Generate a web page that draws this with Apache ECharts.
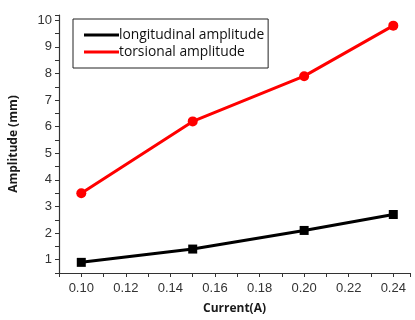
<!DOCTYPE html>
<html><head><meta charset="utf-8">
<script src="https://cdn.jsdelivr.net/npm/echarts@6/dist/echarts.min.js"></script>
<style>html,body{margin:0;padding:0;background:#fff}#c{width:415px;height:320px}</style>
</head><body><div id="c"></div>
<script>
const currents = [0.10, 0.15, 0.20, 0.24];
const longitudinal = [0.9, 1.4, 2.1, 2.7];
const torsional = [3.5, 6.2, 7.9, 9.8];
const seriesNames = ['longitudinal amplitude', 'torsional amplitude'];
const xTitle = 'Current(A)';
const yTitle = 'Amplitude (mm)';

const chart = echarts.init(document.getElementById('c'), null, {renderer: 'canvas'});
const axisFont = 'Liberation Sans, Arial, sans-serif';
chart.setOption({
  animation: false,
  grid: {left: 53, right: 5, top: 15, bottom: 44, containLabel: false},
  legend: {
    left: 73, top: 19, orient: 'vertical',
    padding: [9, 4, 9, 11],
    itemGap: 3,
    itemWidth: 35, itemHeight: 3,
    borderColor: '#222', borderWidth: 1,
    textStyle: {fontFamily: 'Open Sans, sans-serif', fontSize: 13.8, color: '#111', padding: [0,0,0,-5]},
    data: [{name: seriesNames[0], icon: 'rect'}, {name: seriesNames[1], icon: 'rect'}]
  },
  xAxis: {
    type: 'value', min: 0.09, max: 0.2475, interval: 0.01,
    name: xTitle, nameLocation: 'middle', nameGap: 30,
    nameTextStyle: {fontFamily: 'Open Sans, sans-serif', fontWeight: 'bold', fontSize: 12, color: '#1a1a1a'},
    axisLine: {lineStyle: {color: '#333', width: 1.2}},
    axisTick: {length: 4, lineStyle: {color: '#333'}},
    splitLine: {show: false},
    axisLabel: {fontFamily: axisFont, fontSize: 13, color: '#333', margin: 9,
      formatter: v => { const k = Math.round(v * 100); return (k % 2 === 0 && k >= 10 && k <= 24) ? (k / 100).toFixed(2) : ''; }},
    showMinLabel: false, showMaxLabel: false
  },
  yAxis: {
    type: 'value', min: 0.5, max: 10.2, interval: 0.5,
    name: yTitle, nameLocation: 'middle', nameGap: 39,
    nameTextStyle: {fontFamily: 'Open Sans, sans-serif', fontWeight: 'bold', fontSize: 12, color: '#1a1a1a'},
    axisLine: {show: true, lineStyle: {color: '#333', width: 1.2}},
    axisTick: {length: 4, lineStyle: {color: '#333'}},
    splitLine: {show: false},
    axisLabel: {fontFamily: axisFont, fontSize: 13, color: '#333', margin: 7,
      formatter: v => (Math.abs(v - Math.round(v)) < 1e-6 ? String(Math.round(v)) : '')},
    showMaxLabel: false
  },
  series: [
    {name: seriesNames[0], type: 'line', data: currents.map((x, i) => [x, longitudinal[i]]),
     symbol: 'rect', symbolSize: 9, color: '#000', lineStyle: {width: 3, color: '#000'}, itemStyle: {color: '#000'}},
    {name: seriesNames[1], type: 'line', data: currents.map((x, i) => [x, torsional[i]]),
     symbol: 'circle', symbolSize: 10, color: '#ff0000', lineStyle: {width: 3, color: '#ff0000'}, itemStyle: {color: '#ff0000'}}
  ]
});
</script></body></html>
